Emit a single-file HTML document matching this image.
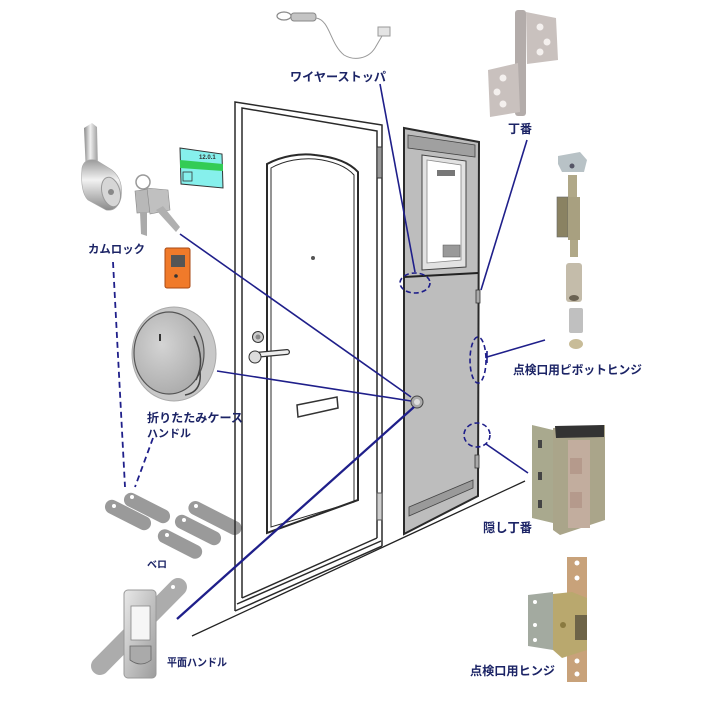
<!DOCTYPE html>
<html><head><meta charset="utf-8"><style>
html,body{margin:0;padding:0;background:#fff;}
svg{display:block;}
text{font-family:"Liberation Sans","Noto Sans CJK JP",sans-serif;font-weight:bold;fill:#1c2466;}
</style></head><body>
<svg width="721" height="702" viewBox="0 0 721 702" xmlns="http://www.w3.org/2000/svg">
<defs>
<linearGradient id="silv" x1="0" x2="1" y1="0" y2="0">
<stop offset="0" stop-color="#8a8a8a"/><stop offset="0.45" stop-color="#f0f0f0"/><stop offset="1" stop-color="#9a9a9a"/></linearGradient>
<linearGradient id="silv3" x1="0" x2="0" y1="0" y2="1">
<stop offset="0" stop-color="#9a9a9a"/><stop offset="0.4" stop-color="#f2f2f2"/><stop offset="1" stop-color="#8a8a8a"/></linearGradient>
<linearGradient id="silv2" x1="0" x2="1" y1="0" y2="1">
<stop offset="0" stop-color="#e8e8e8"/><stop offset="1" stop-color="#9c9c9c"/></linearGradient>
<radialGradient id="disk" cx="0.4" cy="0.4" r="0.7">
<stop offset="0" stop-color="#d4d4d4"/><stop offset="1" stop-color="#a8a8a8"/></radialGradient>
</defs>
<rect width="721" height="702" fill="#fff"/>

<!-- wire stopper -->
<ellipse cx="284" cy="16" rx="7" ry="4" fill="none" stroke="#888" stroke-width="1.2"/>
<rect x="291" y="13" width="25" height="8" rx="3" fill="#c4c4c4" stroke="#888"/>
<path d="M316,18 C330,20 330,44 344,55 C354,61 368,59 375,48 L382,36" fill="none" stroke="#999" stroke-width="1"/>
<rect x="378" y="27" width="12" height="9" fill="#e4e4e4" stroke="#999"/>

<!-- top hinge -->
<polygon points="526,12 556,18 558,60 527,64" fill="#c9c1be"/>
<circle cx="540" cy="27" r="3.5" fill="#f4f0ee"/><circle cx="547" cy="42" r="3.5" fill="#f4f0ee"/><circle cx="540" cy="52" r="3.5" fill="#f4f0ee"/>
<rect x="515" y="10" width="11" height="106" rx="3" fill="#b3acaa"/>
<polygon points="488,70 518,63 520,112 490,117" fill="#c9c1be"/>
<circle cx="503" cy="78" r="3.5" fill="#f4f0ee"/><circle cx="497" cy="92" r="3.5" fill="#f4f0ee"/><circle cx="503" cy="104" r="3.5" fill="#f4f0ee"/>

<!-- pivot hinge -->
<polygon points="558,156 580,152 587,160 584,172 562,172 558,164" fill="#b8c2c6"/>
<circle cx="572" cy="166" r="2.5" fill="#556"/>
<rect x="568" y="175" width="9" height="24" fill="#b0a888"/>
<rect x="557" y="197" width="11" height="40" fill="#8a8262" stroke="#666" stroke-width="0.6"/>
<rect x="568" y="197" width="12" height="43" fill="#a8a080"/>
<rect x="570" y="240" width="8" height="17" fill="#b0a888"/>
<rect x="566" y="263" width="16" height="39" rx="3" fill="#c4bcaa"/>
<ellipse cx="574" cy="298" rx="5" ry="3" fill="#6a6252"/>
<rect x="569" y="308" width="14" height="25" rx="2" fill="#c0c0c0"/>
<ellipse cx="576" cy="344" rx="7" ry="5" fill="#c8bc98"/>

<!-- hidden hinge -->
<polygon points="532,425 553,430 553,523 532,518" fill="#a9a98e"/>
<rect x="538" y="440" width="4" height="8" fill="#444"/><rect x="538" y="472" width="4" height="8" fill="#444"/><rect x="538" y="500" width="4" height="8" fill="#444"/>
<polygon points="553,428 605,425 605,520 560,535 553,530" fill="#aaa58a"/>
<polygon points="555,426 604,425 604,437 556,438" fill="#333"/>
<rect x="568" y="440" width="22" height="88" fill="#c2ad9e"/>
<rect x="570" y="458" width="12" height="16" fill="#b59a8c"/><rect x="570" y="492" width="12" height="16" fill="#b59a8c"/>

<!-- inspection hinge -->
<rect x="567" y="557" width="20" height="125" fill="#c8a27a"/>
<circle cx="577" cy="563" r="2.5" fill="#fff"/><circle cx="577" cy="578" r="2.5" fill="#fff"/><circle cx="577" cy="661" r="2.5" fill="#fff"/><circle cx="577" cy="674" r="2.5" fill="#fff"/>
<polygon points="528,595 553,592 553,650 528,646" fill="#a3aaa0"/>
<circle cx="535" cy="602" r="2" fill="#fff"/><circle cx="535" cy="625" r="2" fill="#fff"/><circle cx="535" cy="640" r="2" fill="#fff"/>
<polygon points="553,594 572,592 587,598 587,650 562,658 553,650" fill="#b9a86e"/>
<rect x="575" y="615" width="12" height="25" fill="#6e6448"/>
<circle cx="563" cy="625" r="3" fill="#8a7a40"/>

<!-- cam lock -->
<polygon points="84,128 92,123 97,127 98,172 86,174" fill="url(#silv)"/>
<path d="M82,168 Q84,158 96,160 L112,170 Q124,180 121,198 Q117,212 106,210 L88,200 Q80,192 82,168 Z" fill="url(#silv3)" stroke="#aaa" stroke-width="0.6"/>
<ellipse cx="111" cy="192" rx="9" ry="15" fill="#d6d6d6" stroke="#999" transform="rotate(-15,111,192)"/>
<circle cx="111" cy="192" r="3" fill="#888"/>

<!-- keys -->
<circle cx="143" cy="182" r="7" fill="none" stroke="#999" stroke-width="1.5"/>
<polygon points="135,191 150,189 151,212 137,213" fill="#b8b8b8" stroke="#888" stroke-width="0.6"/>
<polygon points="140,212 147,212 147,236 141,234" fill="#aaa"/>
<polygon points="147,188 168,190 170,210 150,214" fill="#c0c0c0" stroke="#888" stroke-width="0.6"/>
<polygon points="156,210 163,206 180,227 176,232" fill="#b0b0b0"/>

<!-- card -->
<polygon points="180,148 222,154 223,188 181,184" fill="#86f0ec" stroke="#333" stroke-width="1"/>
<polygon points="180,160 223,164 223,171 180,168" fill="#33cc55"/>
<rect x="183" y="172" width="9" height="9" fill="none" stroke="#333" stroke-width="0.8"/>
<text x="199" y="159" font-size="6" style="fill:#333">12.0.1</text>

<!-- orange box -->
<rect x="165" y="248" width="25" height="40" rx="2" fill="#f07a2a" stroke="#a84a14"/>
<rect x="171" y="255" width="14" height="12" fill="#555"/>
<circle cx="176" cy="276" r="1.8" fill="#333"/>

<!-- round handle -->
<ellipse cx="174" cy="354" rx="42" ry="47" fill="#c8c8c8" stroke="#aaa"/>
<ellipse cx="169" cy="353" rx="35" ry="41" fill="url(#disk)" stroke="#555" stroke-width="1.2"/>
<path d="M196,380 Q206,360 194,336" fill="none" stroke="#444" stroke-width="1.5"/>
<path d="M185,395 Q202,392 200,372" fill="none" stroke="#444" stroke-width="1.5"/>
<rect x="159" y="334" width="2" height="7" fill="#333"/>

<!-- bero plates -->
<g fill="#9a9a9a">
<rect x="-25" y="-7" width="50" height="14" rx="7" transform="translate(147,508) rotate(27)"/>
<rect x="-25" y="-7" width="50" height="14" rx="7" transform="translate(128,515) rotate(27)"/>
<rect x="-29" y="-7" width="58" height="14" rx="7" transform="translate(215,518) rotate(27)"/>
<rect x="-25" y="-7" width="50" height="14" rx="7" transform="translate(198,530) rotate(27)"/>
<rect x="-24" y="-7" width="48" height="14" rx="7" transform="translate(180,544) rotate(27)"/>
</g>
<g fill="#fff"><circle cx="132" cy="497" r="2"/><circle cx="114" cy="506" r="2"/><circle cx="196" cy="506" r="2"/><circle cx="184" cy="520" r="2"/><circle cx="167" cy="535" r="2"/></g>

<!-- flat handle -->
<line x1="100" y1="666" x2="178" y2="587" stroke="#acacac" stroke-width="18" stroke-linecap="round"/>
<circle cx="173" cy="587" r="2" fill="#fff"/><circle cx="112" cy="628" r="2" fill="#fff"/>
<rect x="124" y="590" width="32" height="88" rx="4" fill="url(#silv2)" stroke="#999"/>
<rect x="131" y="606" width="19" height="34" fill="#f6f6f6" stroke="#888" stroke-width="0.8"/>
<path d="M130,646 L151,646 L151,660 Q141,668 130,660 Z" fill="#aaa" stroke="#666" stroke-width="0.8"/>

<!-- main door -->
<g fill="none" stroke="#2a2a2a" stroke-width="1.5">
<polyline points="235,611 235,102 382,125 382,546"/>
<polyline points="242,598 242,108 377,131 377,538"/>
<line x1="242" y1="598" x2="377" y2="538"/>
<line x1="237" y1="604" x2="381" y2="541"/>
<line x1="235" y1="611" x2="382" y2="546"/>
<path d="M267,533 L267,164 C282,156 300,153 315,155 C334,157 349,162 358,172 L358,500 Z" stroke-width="2"/>
<path d="M271,527 L271,168 C285,160 302,158 315,159 C333,161 346,166 354,175 L354,502 Z" stroke-width="1"/>
</g>
<line x1="192" y1="636" x2="525" y2="481" stroke="#222" stroke-width="1.3"/>
<rect x="377" y="147" width="5" height="31" fill="#9a9a9a" stroke="#333"/>
<rect x="377" y="493" width="5" height="27" fill="#d0d0d0" stroke="#555"/>
<circle cx="258" cy="337" r="5.5" fill="#ccc" stroke="#333"/>
<circle cx="258" cy="337" r="2.5" fill="#888"/>
<path d="M255,355 L287,352" stroke="#333" stroke-width="6" stroke-linecap="round"/>
<path d="M255,355 L287,352" stroke="#eee" stroke-width="3.5" stroke-linecap="round"/>
<circle cx="255" cy="357" r="6" fill="#ddd" stroke="#333"/>
<circle cx="313" cy="258" r="2" fill="#555"/>
<polygon points="297,405 337,397 338,408 298,417" fill="#fff" stroke="#333" stroke-width="1.5"/>

<!-- gray panel -->
<polygon points="404,128 479,142 478,496 404,534" fill="#bdbdbd" stroke="#2a2a2a" stroke-width="2"/>
<polygon points="408,135 475,145 475,157 408,148" fill="#a0a0a0" stroke="#444" stroke-width="0.8"/>
<polygon points="422,155 466,161 466,267 422,270" fill="#e2e2e2" stroke="#444"/>
<polygon points="427,160 461,165 461,260 427,263" fill="#fff" stroke="#888" stroke-width="0.8"/>
<rect x="437" y="170" width="18" height="6" fill="#777"/>
<rect x="443" y="245" width="17" height="12" fill="#999" stroke="#555" stroke-width="0.5"/>
<line x1="404" y1="277" x2="478" y2="273" stroke="#222" stroke-width="2"/>
<polygon points="409,507 473,480 473,488 409,516" fill="#9a9a9a" stroke="#444" stroke-width="0.8"/>
<rect x="476" y="290" width="4" height="13" fill="#aaa" stroke="#333" stroke-width="0.8"/>
<rect x="475" y="455" width="4" height="13" fill="#aaa" stroke="#333" stroke-width="0.8"/>
<circle cx="417" cy="402" r="6" fill="#aaa" stroke="#444"/>
<circle cx="417" cy="402" r="3" fill="#ddd"/>

<!-- navy connectors -->
<g stroke="#1f1f8a" stroke-width="1.6" fill="none">
<line x1="180" y1="234" x2="411" y2="397"/>
<line x1="217" y1="371" x2="411" y2="401"/>
<line x1="177" y1="619" x2="414" y2="407" stroke-width="2.3"/>
<line x1="380" y1="84" x2="415" y2="272"/>
<line x1="527" y1="140" x2="481" y2="290"/>
<line x1="487" y1="357" x2="545" y2="340"/>
<line x1="487" y1="351" x2="487" y2="363"/>
<line x1="486" y1="444" x2="528" y2="473"/>
<g stroke-dasharray="5 3">
<ellipse cx="415" cy="283" rx="15" ry="10"/>
<ellipse cx="478" cy="360" rx="8" ry="23"/>
<ellipse cx="477" cy="435" rx="13" ry="12"/>
</g>
<line x1="113" y1="262" x2="125" y2="487" stroke-dasharray="6 4" stroke-width="1.8"/>
<line x1="153" y1="438" x2="135" y2="487" stroke-dasharray="6 4" stroke-width="1.8"/>
</g>

<!-- labels -->
<text x="290" y="81" font-size="12" textLength="96" lengthAdjust="spacingAndGlyphs">ワイヤーストッパ</text>
<text x="508" y="133" font-size="12" textLength="24" lengthAdjust="spacingAndGlyphs">丁番</text>
<text x="88" y="253" font-size="11.5" textLength="57" lengthAdjust="spacingAndGlyphs">カムロック</text>
<text x="147" y="422" font-size="12" textLength="96" lengthAdjust="spacingAndGlyphs">折りたたみケース</text>
<text x="147" y="437" font-size="11" textLength="44" lengthAdjust="spacingAndGlyphs">ハンドル</text>
<text x="147" y="568" font-size="10" textLength="20" lengthAdjust="spacingAndGlyphs">ベロ</text>
<text x="167" y="666" font-size="11" textLength="60" lengthAdjust="spacingAndGlyphs">平面ハンドル</text>
<text x="513" y="374" font-size="12" textLength="129" lengthAdjust="spacingAndGlyphs">点検口用ピボットヒンジ</text>
<text x="483" y="532" font-size="12.5" textLength="49" lengthAdjust="spacingAndGlyphs">隠し丁番</text>
<text x="470" y="675" font-size="12" textLength="85" lengthAdjust="spacingAndGlyphs">点検口用ヒンジ</text>
</svg>
</body></html>
